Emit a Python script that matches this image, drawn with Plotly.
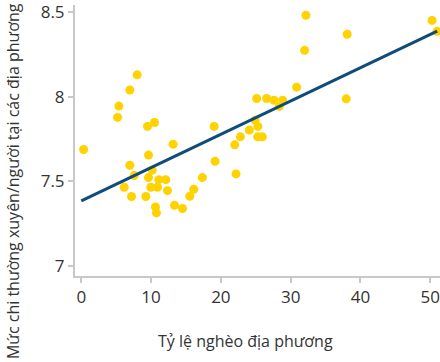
import plotly.graph_objects as go

# Scatter data: local poverty rate (%) vs. log recurrent spending per capita
poverty_rate = [0.33, 5.2, 5.39, 6.96, 8.01, 9.49, 10.49, 13.16, 19.03, 21.99,
                22.8, 24.08, 24.9, 25.13, 25.3, 25.28, 25.94, 32.19, 50.26, 50.98,
                38.1, 32.0, 30.86, 26.56, 27.6, 28.85, 28.37, 37.96, 9.63, 6.96,
                7.58, 10.16, 9.63, 6.15, 7.2, 9.25, 9.97, 10.92, 11.11, 12.11,
                12.35, 10.63, 10.77, 13.35, 14.5, 15.55, 16.12, 17.35, 19.17, 22.17]
spending = [7.688, 7.878, 7.945, 8.04, 8.13, 7.825, 7.848, 7.72, 7.825, 7.716,
            7.763, 7.803, 7.862, 7.99, 7.825, 7.763, 7.763, 8.482, 8.452, 8.387,
            8.37, 8.275, 8.057, 7.99, 7.98, 7.98, 7.943, 7.988, 7.655, 7.595,
            7.534, 7.566, 7.522, 7.465, 7.41, 7.41, 7.465, 7.465, 7.51, 7.51,
            7.445, 7.348, 7.313, 7.358, 7.339, 7.412, 7.453, 7.522, 7.619, 7.544]

# Fitted line endpoints
fit_x = [0, 51]
fit_y = [7.384, 8.389]

x_ticks = [0, 10, 20, 30, 40, 50]
y_ticks = [7, 7.5, 8, 8.5]
y_tick_text = ["7", "7.5", "8", "8.5"]

x_title = "Tỷ lệ nghèo địa phương"
y_title = "Mức chi thường xuyên/người tại các địa phương"

FONT = "Open Sans"
fig = go.Figure()
fig.add_trace(go.Scatter(x=poverty_rate, y=spending, mode="markers",
                         marker=dict(color="#FFD200", size=9, line=dict(width=0)),
                         showlegend=False, cliponaxis=False, hoverinfo="skip"))
fig.add_trace(go.Scatter(x=fit_x, y=fit_y, mode="lines",
                         line=dict(color="#0E4D7B", width=3),
                         showlegend=False, cliponaxis=False, hoverinfo="skip"))

axis_common = dict(showline=True, linecolor="#C8C8C8", linewidth=2,
                   ticks="outside", ticklen=5, tickcolor="#C8C8C8", tickwidth=1.5,
                   showgrid=False, zeroline=False,
                   tickfont=dict(family=FONT, size=17, color="#333333"))

fig.update_xaxes(range=[-0.9, 51.4], tickvals=x_ticks, **axis_common)
fig.update_yaxes(range=[6.94, 8.543], tickvals=y_ticks, ticktext=y_tick_text, **axis_common)

fig.add_annotation(text=x_title, xref="paper", yref="paper", x=0.467, y=-0.24,
                   showarrow=False, xanchor="center", yanchor="middle",
                   font=dict(family=FONT, size=16, color="#333333"))
fig.add_annotation(text=y_title, xref="paper", yref="paper", x=-0.17, y=0.35,
                   showarrow=False, xanchor="center", yanchor="middle", textangle=-90,
                   font=dict(family=FONT, size=16, color="#333333"))

fig.update_layout(width=440, height=362, margin=dict(l=75, r=0, t=5, b=86),
                  plot_bgcolor="white", paper_bgcolor="white")
fig.write_html("out.html", config={"displayModeBar": False},
               post_script="document.body.style.margin='0px';document.body.style.overflow='hidden';")
